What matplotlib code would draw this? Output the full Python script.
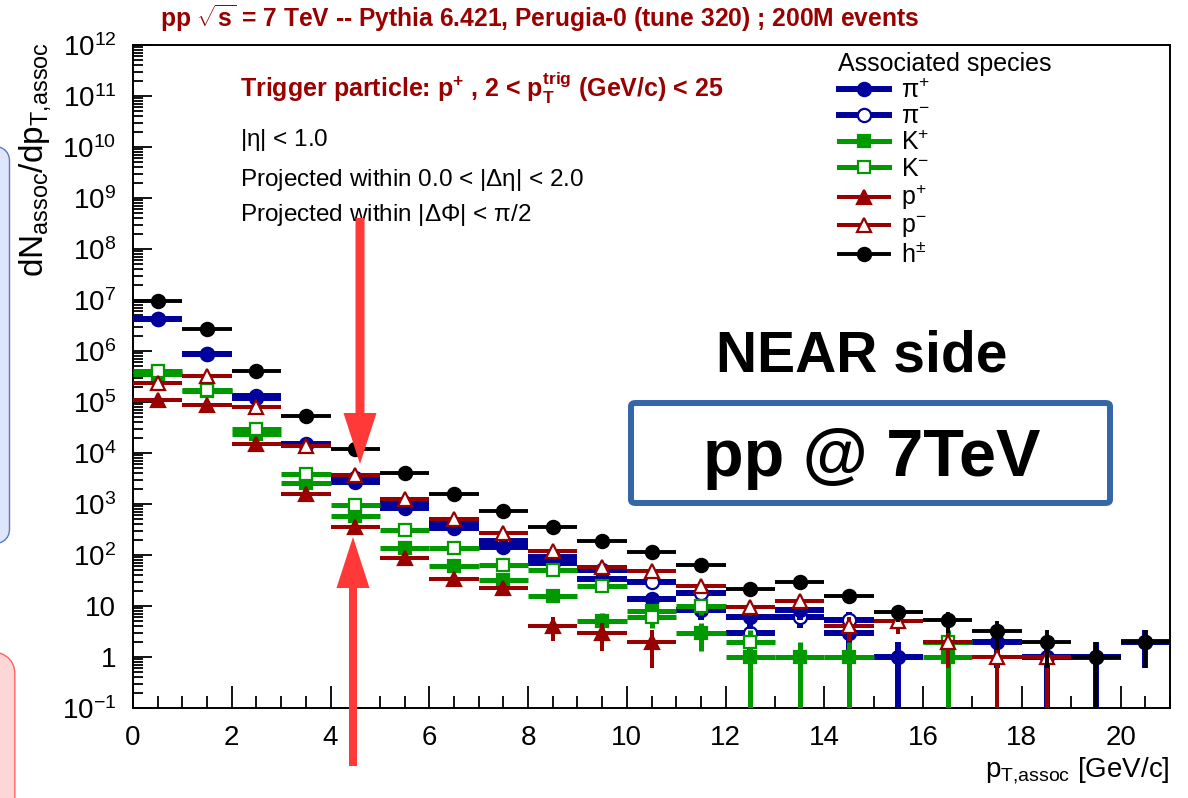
import numpy as np
import matplotlib
matplotlib.use('Agg')
import matplotlib.pyplot as plt
from matplotlib.lines import Line2D
from matplotlib.patches import FancyArrow, FancyBboxPatch
from matplotlib.ticker import FixedLocator, FixedFormatter, MultipleLocator, LogLocator, NullFormatter

plt.rcParams['font.family'] = ['Liberation Sans', 'DejaVu Sans']
plt.rcParams['mathtext.fontset'] = 'custom'
plt.rcParams['mathtext.rm'] = 'Liberation Sans'
plt.rcParams['mathtext.it'] = 'Liberation Sans:italic'
plt.rcParams['mathtext.bf'] = 'Liberation Sans:bold'
plt.rcParams['mathtext.default'] = 'regular'

nan = np.nan

# pT,assoc bin centres (bins 1 GeV/c wide)
pt_bins = [0.5, 1.5, 2.5, 3.5, 4.5, 5.5, 6.5, 7.5, 8.5, 9.5, 10.5,
           11.5, 12.5, 13.5, 14.5, 15.5, 16.5, 17.5, 18.5, 19.5, 20.5]

# dN/dpT per species
pi_plus = [4.2e6, 8.8e5, 1.2e5, 1.45e4, 2.7e3, 830, 340, 143, 70, 34, 14,
           8.2, 6.1, 8.2, 3.0, 1.0, nan, 2.0, 1.0, 1.0, 2.0]
pi_minus = [4.2e6, 8.8e5, 1.3e5, 1.5e4, 3.2e3, 1040, 410, 184, 91, 50, 29,
            18, 3.0, 6.2, 5.2, nan, nan, nan, nan, nan, nan]
k_plus = [3.6e5, 1.65e5, 2.35e4, 2.6e3, 570, 137, 60, 33, 16, 5.0, 8.0,
          3.0, 1.0, 1.0, 1.0, nan, 1.0, nan, nan, nan, nan]
k_minus = [4.1e5, 1.7e5, 2.9e4, 3.9e3, 970, 313, 137, 64, 50, 25, 6.2,
           10, 2.0, nan, nan, nan, 2.0, nan, nan, nan, nan]
p_plus = [1.1e5, 8.8e4, 1.5e4, 1.6e3, 350, 87, 34, 22.5, 4.1, 3.0, 2.0,
          nan, nan, nan, nan, nan, nan, nan, nan, nan, nan]
p_minus = [2.4e5, 3.2e5, 8.1e4, 1.4e4, 3.7e3, 1270, 506, 270, 121, 58, 49,
           25, 9.5, 12.7, 4.1, 5.1, 2.0, 1.0, 1.0, nan, nan]
h_all = [9.6e6, 2.7e6, 4.0e5, 5.4e4, 1.2e4, 4.0e3, 1.6e3, 740, 350, 190, 116,
         64, 22, 30, 16, 7.5, 5.3, 3.2, 2.0, 1.0, 2.0]

# vertical error bars (only those visible)
pi_plus_err = [0, 0, 0, 0, 0, 0, 0, 0, 0, 0, 0, 2.9, 2.5, 2.9, 1.7, 1.0, 0, 1.4, 1.0, 1.0, 1.4]
pi_minus_err = [0, 0, 0, 0, 0, 0, 0, 0, 0, 0, 0, 0, 1.7, 2.5, 2.3, 0, 0, 0, 0, 0, 0]
k_plus_err = [0, 0, 0, 0, 0, 0, 0, 0, 0, 2.2, 2.8, 1.7, 1.0, 1.0, 1.0, 0, 1.0, 0, 0, 0, 0]
k_minus_err = [0, 0, 0, 0, 0, 0, 0, 0, 0, 0, 2.5, 3.2, 1.4, 0, 0, 0, 1.4, 0, 0, 0, 0]
p_plus_err = [0, 0, 0, 0, 0, 0, 0, 0, 2.0, 1.7, 1.4, 0, 0, 0, 0, 0, 0, 0, 0, 0, 0]
p_minus_err = [0, 0, 0, 0, 0, 0, 0, 0, 0, 0, 0, 0, 3.0, 3.6, 2.0, 2.3, 1.4, 1.0, 1.0, 0, 0]
h_err = [0, 0, 0, 0, 0, 0, 0, 0, 0, 0, 0, 0, 4.7, 5.5, 4.0, 2.7, 2.3, 1.8, 1.4, 1.0, 1.4]

species_labels = [r'$\pi^{+}$', r'$\pi^{-}$', r'K$^{+}$', r'K$^{-}$',
                  r'p$^{+}$', r'p$^{-}$', r'h$^{\pm}$']

ytick_vals = [1e-1, 1, 10, 1e2, 1e3, 1e4, 1e5, 1e6, 1e7, 1e8, 1e9, 1e10, 1e11, 1e12]
ytick_labels = ['10$^{-1}$', '1', '10', '10$^{2}$', '10$^{3}$', '10$^{4}$', '10$^{5}$',
                '10$^{6}$', '10$^{7}$', '10$^{8}$', '10$^{9}$', '10$^{10}$',
                '10$^{11}$', '10$^{12}$']

BLUE = '#00009c'
GREEN = '#009a00'
RED = '#990000'
BLACK = '#000000'

# (values, errors, colour, marker, face, line width, marker size, draw order)
series = [
    (pi_plus, pi_plus_err, BLUE, 'o', BLUE, 4.3, 9.5, 4),
    (pi_minus, pi_minus_err, BLUE, 'o', 'white', 4.3, 9.5, 3),
    (k_plus, k_plus_err, GREEN, 's', GREEN, 3.6, 8.5, 5),
    (k_minus, k_minus_err, GREEN, 's', 'white', 3.6, 8.5, 6),
    (p_plus, p_plus_err, RED, '^', RED, 2.9, 10, 7),
    (p_minus, p_minus_err, RED, '^', 'white', 2.9, 10, 8),
    (h_all, h_err, BLACK, 'o', BLACK, 2.8, 9.5, 9),
]

W, H = 1188, 798
fig = plt.figure(figsize=(W / 100, H / 100), dpi=100)
fig.patch.set_facecolor('white')


def fx(px):
    return px / W


def fy(py):
    return 1 - py / H


ax = fig.add_axes([fx(133), fy(708), fx(1170) - fx(133), fy(45) - fy(708)])

handles = []
for vals, errs, col, mk, fc, lw, ms, zo in series:
    v = np.array(vals, dtype=float)
    e = np.array(errs, dtype=float)
    x = np.array(pt_bins)
    ok = ~np.isnan(v)
    ax.errorbar(x[ok], v[ok], xerr=0.5, yerr=e[ok], fmt=mk, color=col,
                mfc=fc, mec=col, mew=1.6, ms=ms, elinewidth=lw, capsize=0,
                zorder=zo)
    handles.append(Line2D([], [], color=col, lw=lw, marker=mk, mfc=fc, mec=col,
                          mew=1.6, ms=ms))

ax.set_yscale('log')
ax.set_xlim(0, 21)
ax.set_ylim(1e-1, 1e12)

ax.yaxis.set_major_locator(FixedLocator(ytick_vals))
ax.yaxis.set_major_formatter(FixedFormatter(ytick_labels))
ax.yaxis.set_minor_locator(LogLocator(base=10, subs=range(2, 10), numticks=50))
ax.yaxis.set_minor_formatter(NullFormatter())
ax.xaxis.set_major_locator(MultipleLocator(2))
ax.xaxis.set_minor_locator(MultipleLocator(0.5))

ax.tick_params(axis='both', which='both', direction='in', top=False, right=False,
               width=1.3, labelsize=20)
ax.tick_params(axis='y', which='major', length=13.5, pad=12)
ax.tick_params(axis='y', which='minor', length=7)
ax.tick_params(axis='x', which='major', length=16, pad=12)
ax.tick_params(axis='x', which='minor', length=8.5)
for sp in ax.spines.values():
    sp.set_linewidth(1.4)

ax.set_ylabel(r'dN$_{assoc}$/dp$_{T{,}assoc}$', fontsize=24, loc='top')
ax.yaxis.set_label_coords(-0.077, 1.005)
ax.set_xlabel(r'p$_{T{,}assoc}$ [GeV/c]', fontsize=20, loc='right', labelpad=3)

# in-pad texts
fig.text(fx(160), fy(18), r'pp $\sqrt{s}$ = 7 TeV -- Pythia 6.421, Perugia-0 (tune 320) ; 200M events',
         color=RED, fontsize=17.7, fontweight='bold', va='center', ha='left')
fig.text(fx(240), fy(88), r'Trigger particle: p$^{+}$ , 2 < p$_{T}^{trig}$ (GeV/c) < 25',
         color=RED, fontsize=18, fontweight='bold', va='center', ha='left')
fig.text(fx(240), fy(140), r'|$\eta$| < 1.0', fontsize=17.5, va='center', ha='left')
fig.text(fx(240), fy(180), r'Projected within 0.0 < |$\Delta\eta$| < 2.0', fontsize=17.5,
         va='center', ha='left')
fig.text(fx(240), fy(215), r'Projected within |$\Delta\Phi$| < $\pi$/2', fontsize=17.5,
         va='center', ha='left')

leg = ax.legend(handles, species_labels, title='Associated species', loc='upper left',
                bbox_to_anchor=(fx(826), fy(40)), bbox_transform=fig.transFigure,
                frameon=False, fontsize=18, title_fontsize=18, handlelength=2.0,
                handletextpad=0.5, labelspacing=0.08, alignment='left', borderpad=0)

# slide annotations on top of the plot
fig.text(fx(862), fy(372), 'NEAR side', fontsize=41, fontweight='bold', ha='center',
         va='baseline')
box = FancyBboxPatch((fx(631), fy(503)), fx(1110) - fx(631), fy(403) - fy(503),
                     boxstyle='round,pad=0,rounding_size=0.004', transform=fig.transFigure,
                     fc='white', ec='#3566a8', lw=4.3, zorder=20)
fig.add_artist(box)
fig.text(fx(872), fy(476), 'pp @ 7TeV', fontsize=48, fontweight='bold', ha='center',
         va='baseline', zorder=21)

arrow_kw = dict(color='#ff3838', length_includes_head=True, transform=fig.dpi_scale_trans,
                zorder=22, lw=0)
fig.add_artist(FancyArrow(3.60, (H - 218) / 100, 0, -(464 - 218) / 100, width=0.09,
                          head_width=0.33, head_length=0.51, **arrow_kw))
fig.add_artist(FancyArrow(3.53, (H - 766) / 100, 0, (766 - 537) / 100, width=0.08,
                          head_width=0.33, head_length=0.51, **arrow_kw))

# partial slide boxes at the left border
fig.add_artist(FancyBboxPatch((-0.05, fy(545)), 0.058, fy(145) - fy(545),
                              boxstyle='round,pad=0,rounding_size=0.02',
                              transform=fig.transFigure, fc='#dfe5fa', ec='#5a78c8',
                              lw=1.0, zorder=0))
fig.add_artist(FancyBboxPatch((-0.05, fy(830)), 0.0625, fy(650) - fy(830),
                              boxstyle='round,pad=0,rounding_size=0.03',
                              transform=fig.transFigure, fc='#ffd6d6', ec='#ff6060',
                              lw=1.0, zorder=0))

fig.savefig('out.png', dpi=100)
